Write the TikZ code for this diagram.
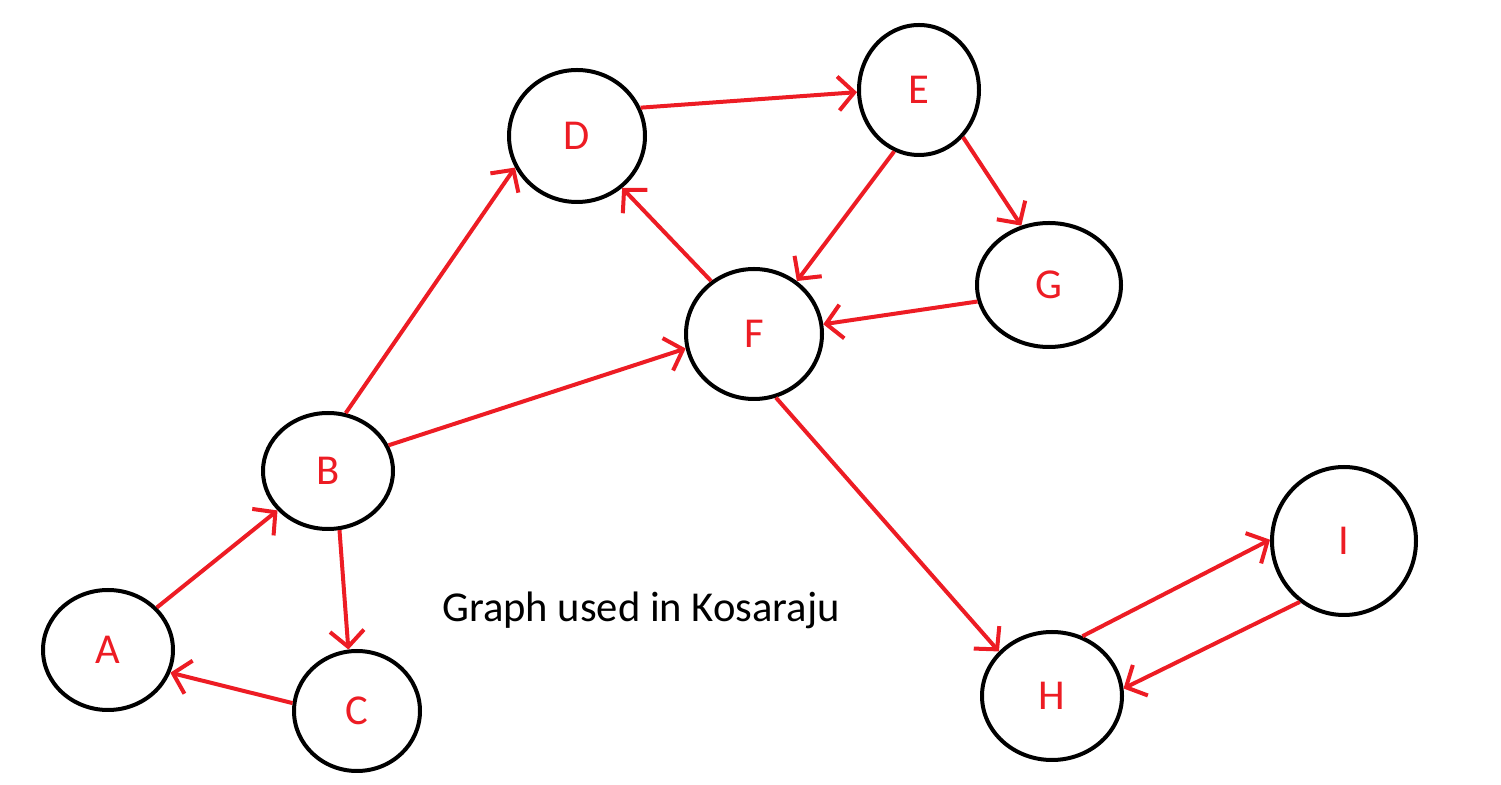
\documentclass[tikz,border=0pt]{standalone}
\usepackage{fontspec}
\setmainfont{Carlito}
\usetikzlibrary{shapes.geometric,arrows.meta}
\definecolor{pred}{RGB}{237,28,36}
\tikzset{
  vtx/.style={draw=black,line width=2pt,ellipse,inner sep=0pt,text=pred,font=\fontsize{21.3}{25}\selectfont},
  edge/.style={draw=pred,line width=2pt,-{Straight Barb[length=8pt,width=17pt]}}
}
\begin{document}
\begin{tikzpicture}[x=0.5pt,y=-0.5pt]
\useasboundingbox (0,0) rectangle (1501,785);
\node[vtx,minimum width=65pt,minimum height=60pt] (A) at (108,650) {A};
\node[vtx,minimum width=65pt,minimum height=58pt] (B) at (328,471) {B};
\node[vtx,minimum width=63pt,minimum height=60pt] (C) at (357,711) {C};
\node[vtx,minimum width=68pt,minimum height=66pt] (D) at (577,136) {D};
\node[vtx,minimum width=60pt,minimum height=65pt] (E) at (919,90) {E};
\node[vtx,minimum width=68pt,minimum height=65pt] (F) at (754,334) {F};
\node[vtx,minimum width=72pt,minimum height=62pt] (G) at (1049,285) {G};
\node[vtx,minimum width=70pt,minimum height=64pt] (H) at (1052,696) {H};
\node[vtx,minimum width=72pt,minimum height=74pt] (I) at (1344,541) {I};
\node[font=\fontsize{21.3}{25}\selectfont,text=black] (cap) at (641,610) {Graph used in Kosaraju};
\draw[edge] (A.41) -- (B.218);
\draw[edge] (C.173) -- (A.-20);
\draw[edge] (B.-79) -- (C.98);
\draw[edge] (B.73) -- (D.207);
\draw[edge] (B.23) -- (F.192);
\draw[edge] (D.24) -- (E.182);
\draw[edge] (F.129) -- (D.-49);
\draw[edge] (E.248) -- (F.51);
\draw[edge] (E.-47) -- (G.115);
\draw[edge] (G.193) -- (F.8);
\draw[edge] (F.-71) -- (H.140);
\draw[edge] (H.63) -- (I.179);
\draw[edge] (I.234) -- (H.6);
\end{tikzpicture}
\end{document}
